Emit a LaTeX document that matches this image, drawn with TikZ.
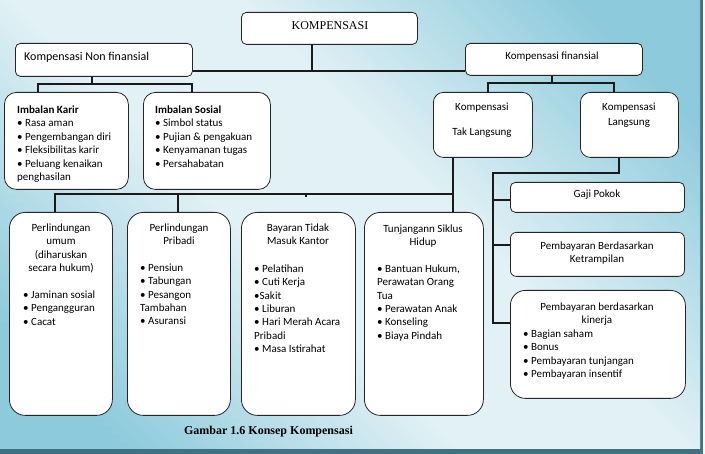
\documentclass[tikz,border=0pt]{standalone}
\usepackage{fontspec}
\setmainfont{Carlito}
\newfontfamily\titlefont{Liberation Serif}
\definecolor{bgout}{HTML}{8CCADC}
\definecolor{bglight}{HTML}{E2F1F5}
\definecolor{framecol}{HTML}{3F7282}
\definecolor{lncol}{HTML}{1A1A1A}
\pgfdeclarehorizontalshading{bgshade}{100bp}{color(0bp)=(bgout); color(22bp)=(bgout); color(43bp)=(bglight); color(57bp)=(bglight); color(78bp)=(bgout); color(100bp)=(bgout)}
\tikzset{
  box/.style={draw=black!85, line width=0.8pt, fill=white, rounded corners=#1, inner sep=0pt, anchor=north west},
  box/.default=5pt,
  conn/.style={draw=lncol, line width=1.3pt},
  txt/.style={inner sep=0pt, font=\fontsize{11}{13.4}\selectfont, align=left, anchor=north west},
  ctxt/.style={inner sep=0pt, font=\fontsize{11}{13.4}\selectfont, align=center, anchor=north},
  stxt/.style={inner sep=0pt, font=\fontsize{11}{13.4}\selectfont},
}
\begin{document}
\begin{tikzpicture}[x=1pt,y=-1pt]
\useasboundingbox (0,0) rectangle (705,454);
\fill[framecol] (0,0) rectangle (703,454);
\shade[shading=bgshade, shading angle=45] (0,0) rectangle (700,449);

% boxes
\node[box, minimum width=176pt, minimum height=32pt] (komp) at (241,12) {};
\node[box, minimum width=177pt, minimum height=33pt] (nonfin) at (15,43) {};
\node[box, minimum width=177pt, minimum height=32pt] (fin) at (465,43) {};
\node[box=12pt, minimum width=124pt, minimum height=97pt] (karir) at (4,92) {};
\node[box=12pt, minimum width=127pt, minimum height=97pt] (sosial) at (143,92) {};
\node[box=10pt, minimum width=99pt, minimum height=65pt] (taklang) at (433,92) {};
\node[box=10pt, minimum width=98pt, minimum height=65pt] (lang) at (580,92) {};
\node[box=5pt, minimum width=174pt, minimum height=30pt] (gaji) at (510,182) {};
\node[box=6pt, minimum width=174pt, minimum height=44pt] (ketr) at (510,232) {};
\node[box=15pt, minimum width=175pt, minimum height=108pt] (kinerja) at (510,290) {};
\node[box=16pt, minimum width=103pt, minimum height=203pt] (b1) at (9,212) {};
\node[box=16pt, minimum width=103pt, minimum height=203pt] (b2) at (127,212) {};
\node[box=16pt, minimum width=114pt, minimum height=203pt] (b3) at (241,212) {};
\node[box=16pt, minimum width=119pt, minimum height=203pt] (b4) at (364,212) {};

% connectors
\coordinate (j1) at (312,71);
\draw[conn] (komp.south -| j1) -- (j1);
\draw[conn] (nonfin.east |- j1) -- (fin.west |- j1);
\coordinate (j2) at (92,84); \coordinate (j2a) at (38,84); \coordinate (j2b) at (192,84);
\draw[conn] (nonfin.south -| j2) -- (j2);
\draw[conn] (karir.north -| j2a) -- (j2a) -- (j2b) -- (sosial.north -| j2b);
\coordinate (j3) at (552,83); \coordinate (j3a) at (488,83); \coordinate (j3b) at (614,83);
\draw[conn] (fin.south -| j3) -- (j3);
\draw[conn] (taklang.north -| j3a) -- (j3a) -- (j3b) -- (lang.north -| j3b);
\coordinate (j4) at (453,194); \coordinate (j4a) at (55,194); \coordinate (j4b) at (178,194);
\coordinate (j4c) at (306,194); \coordinate (j4t) at (306,197);
\draw[conn] (taklang.south -| j4) -- (b4.north -| j4);
\draw[conn] (j4) -- (j4a) -- (b1.north -| j4a);
\draw[conn] (j4b) -- (b2.north -| j4b);
\draw[conn] (j4c) -- (j4t);
\coordinate (j5) at (619,173); \coordinate (j5a) at (493,173); \coordinate (j5b) at (493,323);
\coordinate (j5g) at (493,200); \coordinate (j5k) at (493,245);
\draw[conn] (lang.south -| j5) -- (j5) -- (j5a) -- (j5b) -- (kinerja.west |- j5b);
\draw[conn] (j5g) -- (gaji.west |- j5g);
\draw[conn] (j5k) -- (ketr.west |- j5k);

% texts
\node[inner sep=0pt, font=\titlefont\fontsize{12}{14}\selectfont] (tkomp) at (330,26) {KOMPENSASI};
\node[inner sep=0pt, font=\fontsize{12}{14}\selectfont, anchor=west] (tnonfin) at (24,57) {Kompensasi Non finansial};
\node[stxt] (tfin) at (552,57) {Kompensasi finansial};
\node[txt] (tkarir) at (17,105.5) {\textbf{Imbalan Karir}\\• Rasa aman\\• Pengembangan diri\\• Fleksibilitas karir\\• Peluang kenaikan\\penghasilan};
\node[txt] (tsosial) at (155,105.5) {\textbf{Imbalan Sosial}\\• Simbol status\\• Pujian \& pengakuan\\• Kenyamanan tugas\\• Persahabatan};
\node[stxt] (ttak1) at (482,108) {Kompensasi};
\node[stxt] (ttak2) at (482,133) {Tak Langsung};
\node[stxt] (tlang1) at (629,108) {Kompensasi};
\node[stxt] (tlang2) at (629,123) {Langsung};
\node[stxt] (tgaji) at (597,195) {Gaji Pokok};
\node[ctxt] (tketr) at (597,241.5) {Pembayaran Berdasarkan\\Ketrampilan};
\node[ctxt] (tkin) at (597,302.5) {Pembayaran berdasarkan\\kinerja};
\node[txt] (tkinb) at (523,329.5) {• Bagian saham\\• Bonus\\• Pembayaran tunjangan\\• Pembayaran insentif};
\node[ctxt] (tb1) at (61,223.5) {Perlindungan\\umum\\(diharuskan\\secara hukum)};
\node[txt] (tb1b) at (23,290.5) {• Jaminan sosial\\• Pengangguran\\• Cacat};
\node[ctxt] (tb2) at (179,223.5) {Perlindungan\\Pribadi};
\node[txt] (tb2b) at (140,263.5) {• Pensiun\\• Tabungan\\• Pesangon\\Tambahan\\• Asuransi};
\node[ctxt] (tb3) at (298,223.5) {Bayaran Tidak\\Masuk Kantor};
\node[txt] (tb3b) at (254,264.5) {• Pelatihan\\• Cuti Kerja\\•Sakit\\• Liburan\\• Hari Merah Acara\\Pribadi\\• Masa Istirahat};
\node[ctxt] (tb4) at (423,224.5) {Tunjangann Siklus\\Hidup};
\node[txt] (tb4b) at (377,264.5) {• Bantuan Hukum,\\Perawatan Orang\\Tua\\• Perawatan Anak\\• Konseling\\• Biaya Pindah};
\node[inner sep=0pt, font=\titlefont\bfseries\fontsize{12}{14}\selectfont] (cap) at (268.5,432) {Gambar 1.6 Konsep Kompensasi};
\end{tikzpicture}
\end{document}
